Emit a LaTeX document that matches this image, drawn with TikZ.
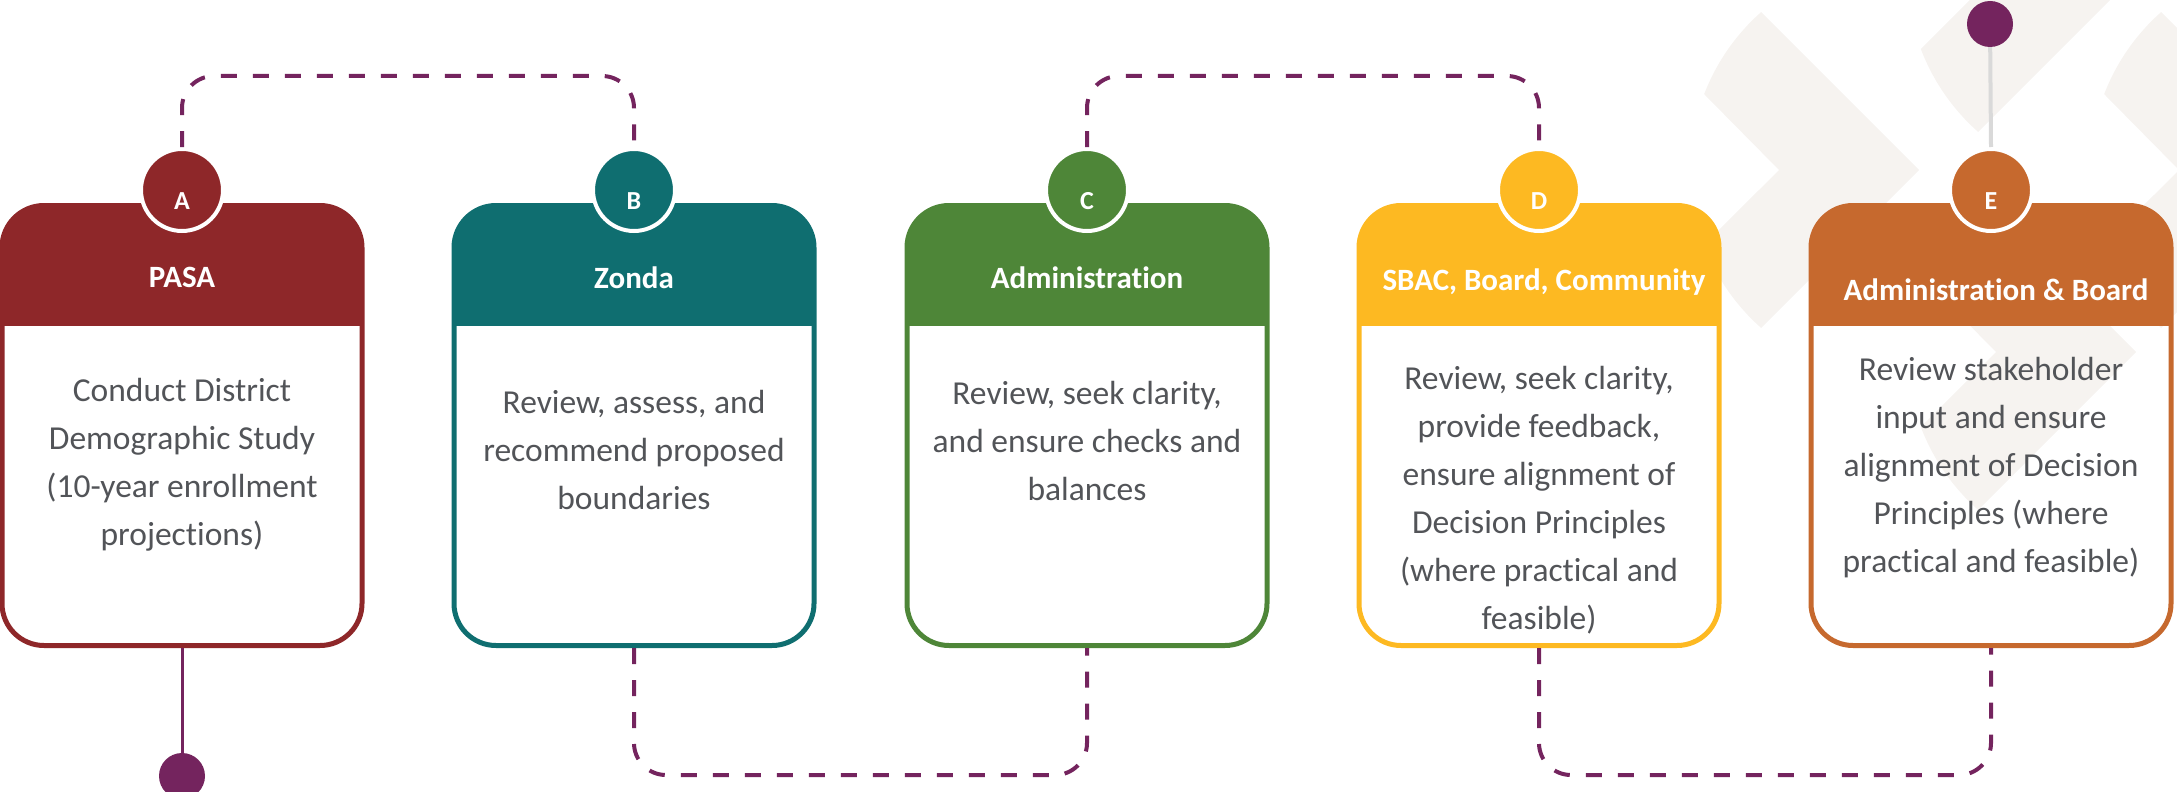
\documentclass[tikz,border=0pt]{standalone}
\usepackage{fontspec}
\setmainfont{Carlito}[Ligatures=NoCommon]
\usetikzlibrary{calc}

\definecolor{pasared}{RGB}{142,39,41}
\definecolor{zondateal}{RGB}{15,110,112}
\definecolor{admgreen}{RGB}{78,134,56}
\definecolor{sbacgold}{RGB}{253,185,34}
\definecolor{boardorange}{RGB}{198,105,46}
\definecolor{linkpurple}{RGB}{116,36,94}
\definecolor{bodygrey}{RGB}{82,84,88}
\definecolor{chevronbeige}{RGB}{246,243,240}
\definecolor{stemgrey}{RGB}{217,217,217}

\tikzset{
  stagebox/.style={rectangle, rounded corners=42pt, draw=#1, line width=5pt,
    minimum width=360pt, minimum height=440pt, inner sep=0pt,
    path picture={\fill[#1, sharp corners] (path picture bounding box.north west)
      rectangle ([yshift=-120pt]path picture bounding box.north east);}},
  badge/.style={circle, fill=#1, draw=white, line width=4pt, minimum size=82pt, inner sep=0pt},
  badgeletter/.style={text=white, font=\fontsize{26}{30}\selectfont\bfseries, inner sep=0pt},
  headtext/.style={text=white, font=\fontsize{31}{37}\selectfont\bfseries, inner sep=0pt},
  bodytext/.style={text=bodygrey, font=\fontsize{33.5}{48}\selectfont, align=center, inner sep=0pt},
  dashlink/.style={draw=linkpurple, line width=4pt, dash pattern=on 16pt off 16pt, rounded corners=32pt},
  endpoint/.style={circle, fill=linkpurple, minimum size=46pt, inner sep=0pt},
}

% one faint chevron of the background pattern, shifted by (#1,#2)
\newcommand\chevronat[2]{%
  \fill[chevronbeige, shift={(#1,#2)}] (1761,12) -- (1919,170) -- (1761,328)
    -- plot[domain=131.55:159.15, samples=12] ({1901+211*cos(\x)},{170+211*sin(\x)})
    -- (1779,170) -- (1704,94)
    -- plot[domain=201.1:228.45, samples=12] ({1901+211*cos(\x)},{170+211*sin(\x)})
    -- cycle;}

\begin{document}
\begin{tikzpicture}[x=1pt,y=-1pt]
\useasboundingbox (0,0) rectangle (2177,792);
\clip (0,0) rectangle (2177,792);

% background chevrons
\chevronat{0}{0}
\chevronat{217}{-196}
\chevronat{400}{0}
\chevronat{217}{182}

% stage boxes
\node[stagebox=pasared]     (Abox) at (182,425.5)  {};
\node[stagebox=zondateal]   (Bbox) at (634,425.5)  {};
\node[stagebox=admgreen]    (Cbox) at (1087,425.5) {};
\node[stagebox=sbacgold]    (Dbox) at (1539,425.5) {};
\node[stagebox=boardorange] (Ebox) at (1991,425.5) {};

% headers
\node[headtext] (Ahead) at (182,277)  {PASA};
\node[headtext] (Bhead) at (634,278)  {Zonda};
\node[headtext] (Chead) at (1087,278) {Administration};
\node[headtext] (Dhead) at (1544,282) {SBAC, Board, Community};
\node[headtext] (Ehead) at (1996,290) {Administration \& Board};

% descriptions
\node[bodytext] (Abody) at (182,465) {Conduct District\\Demographic Study\\(10-year enrollment\\projections)};
\node[bodytext] (Bbody) at (634,450) {Review, assess, and\\recommend proposed\\boundaries};
\node[bodytext] (Cbody) at (1087,441) {Review, seek clarity,\\and ensure checks and\\balances};
\node[bodytext] (Dbody) at (1539,500) {Review, seek clarity,\\provide feedback,\\ensure alignment of\\Decision Principles\\(where practical and\\feasible)};
\node[bodytext] (Ebody) at (1991,468) {Review stakeholder\\input and ensure\\alignment of Decision\\Principles (where\\practical and feasible)};

% badges
\node[badge=pasared]     (Abadge) at (182,190)  {};
\node[badge=zondateal]   (Bbadge) at (634,190)  {};
\node[badge=admgreen]    (Cbadge) at (1087,190) {};
\node[badge=sbacgold]    (Dbadge) at (1539,190) {};
\node[badge=boardorange] (Ebadge) at (1991,190) {};
\node[badgeletter] (Aletter) at (182,201)  {A};
\node[badgeletter] (Bletter) at (634,201)  {B};
\node[badgeletter] (Cletter) at (1087,201) {C};
\node[badgeletter] (Dletter) at (1539,201) {D};
\node[badgeletter] (Eletter) at (1991,201) {E};

% dashed links between stages
\coordinate (topAB) at (408,76);
\coordinate (topCD) at (1313,76);
\coordinate (botBC) at (860,775);
\coordinate (botDE) at (1765,775);
\draw[dashlink] (Abadge.north) |- (topAB) -| (Bbadge.north);
\draw[dashlink] (Cbadge.north) |- (topCD) -| (Dbadge.north);
\draw[dashlink] (Bbox.south) |- (botBC) -| (Cbox.south);
\draw[dashlink] (Dbox.south) |- (botDE) -| (Ebox.south);

% start and finish points
\node[endpoint] (start)  at (182,776) {};
\node[endpoint] (finish) at (1990,24) {};
\draw[linkpurple, line width=3pt] (Abox.south) -- (start);
\draw[stemgrey, line width=4pt] (Ebadge.north) -- (finish);
\end{tikzpicture}
\end{document}
